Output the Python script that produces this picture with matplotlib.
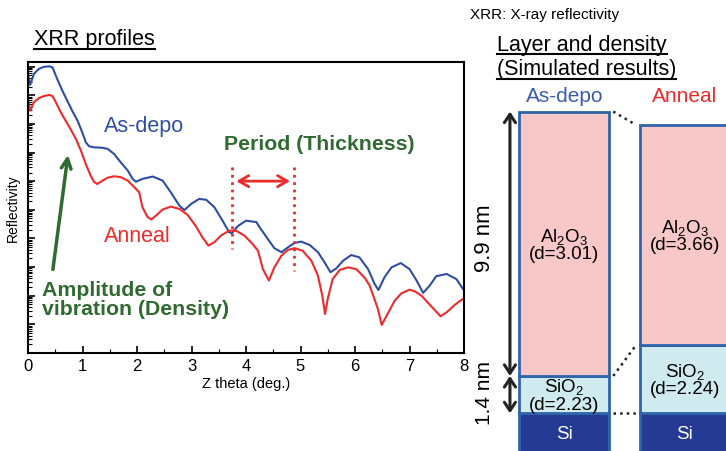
import matplotlib
matplotlib.use("Agg")
import matplotlib.pyplot as plt
from matplotlib.lines import Line2D
from matplotlib.ticker import LogLocator, MultipleLocator, NullFormatter
import numpy as np

plt.rcParams['font.family'] = ['Liberation Sans', 'DejaVu Sans']
plt.rcParams['mathtext.fontset'] = 'custom'
plt.rcParams['mathtext.rm'] = 'Liberation Sans'
plt.rcParams['mathtext.it'] = 'Liberation Sans:italic'

# XRR profiles: 2theta (deg) and log10(reflectivity)
asdepo_x = [0.00, 0.04, 0.11, 0.20, 0.29, 0.39, 0.45, 0.49, 0.54, 0.63, 0.72, 0.81, 0.91,
            1.00, 1.06, 1.12, 1.21, 1.34, 1.46, 1.58, 1.70, 1.83, 1.92, 1.98, 2.10, 2.29,
            2.47, 2.62, 2.78, 2.87, 2.99, 3.14, 3.27, 3.42, 3.57, 3.69, 3.74, 3.85, 4.00,
            4.19, 4.25, 4.40, 4.52, 4.65, 4.77, 4.89, 5.01, 5.17, 5.32, 5.44, 5.55, 5.66,
            5.78, 5.93, 6.08, 6.24, 6.36, 6.43, 6.54, 6.67, 6.84, 7.00, 7.13, 7.25, 7.37,
            7.49, 7.68, 7.86, 7.98]
asdepo_log = [-0.29, -0.64, -0.25, -0.08, -0.01, 0.01, -0.03, -0.22, -0.45, -0.84, -1.19,
              -1.54, -1.89, -2.32, -2.64, -2.78, -2.82, -2.83, -2.87, -3.05, -3.34, -3.63,
              -3.92, -4.02, -3.92, -3.84, -3.98, -4.39, -4.86, -5.01, -4.80, -4.62, -4.65,
              -4.91, -5.38, -5.78, -5.82, -5.57, -5.38, -5.43, -5.61, -6.02, -6.34, -6.48,
              -6.31, -6.16, -6.11, -6.23, -6.48, -6.83, -7.18, -7.04, -6.78, -6.58, -6.66,
              -7.07, -7.59, -7.80, -7.36, -7.01, -6.86, -7.07, -7.47, -7.90, -7.65, -7.32,
              -7.24, -7.42, -7.76]

anneal_x = [0.00, 0.04, 0.11, 0.20, 0.29, 0.39, 0.45, 0.51, 0.60, 0.69, 0.78, 0.88, 0.97,
            1.06, 1.15, 1.21, 1.27, 1.37, 1.46, 1.58, 1.70, 1.83, 1.95, 2.04, 2.10, 2.19,
            2.26, 2.35, 2.47, 2.62, 2.78, 2.93, 3.08, 3.20, 3.31, 3.42, 3.54, 3.69, 3.82,
            3.97, 4.12, 4.22, 4.31, 4.42, 4.52, 4.65, 4.77, 4.89, 5.04, 5.20, 5.32, 5.40,
            5.45, 5.50, 5.59, 5.72, 5.87, 6.02, 6.08, 6.18, 6.27, 6.42, 6.49, 6.58, 6.73,
            6.85, 7.00, 7.10, 7.22, 7.40, 7.57, 7.68, 7.83, 7.98]
anneal_log = [-1.19, -1.54, -1.24, -1.10, -1.03, -0.99, -1.03, -1.24, -1.59, -1.89, -2.18,
              -2.53, -2.93, -3.40, -3.81, -4.02, -4.10, -3.98, -3.88, -3.83, -3.86, -3.98,
              -4.21, -4.39, -4.91, -5.24, -5.34, -5.20, -4.99, -4.89, -4.97, -5.18, -5.57,
              -5.96, -6.25, -6.13, -5.90, -5.73, -5.73, -5.90, -6.19, -6.43, -7.07, -7.47,
              -7.01, -6.60, -6.40, -6.34, -6.43, -6.78, -7.30, -8.00, -8.64, -8.11, -7.42,
              -7.10, -7.01, -7.07, -7.18, -7.38, -7.65, -8.46, -9.02, -8.70, -8.17, -7.92,
              -7.79, -7.85, -8.00, -8.37, -8.72, -8.58, -8.32, -8.11]

# layer model (simulated results)
samples = ['As-depo', 'Anneal']
al2o3_thk = [9.9, 8.25]
sio2_thk = [1.4, 2.55]
al2o3_d = [3.01, 3.66]
sio2_d = [2.23, 2.24]
si_thk = 1.5

BLUE = '#2f4ea3'
RED = '#ee2a2a'
GREEN = '#2f6b30'
EDGE = '#2e64a8'
PINK = '#f8c8c9'
CYAN = '#cfebf0'
NAVY = '#243a93'

W, H = 726, 452
fig = plt.figure(figsize=(W / 100, H / 100), dpi=100)

# ---------------- left: XRR profiles ----------------
ax = fig.add_axes([28 / W, 1 - 354 / H, 436 / W, 291 / H])
ax.plot(asdepo_x, 10 ** np.array(asdepo_log), color=BLUE, lw=1.5, solid_joinstyle='round')
ax.plot(anneal_x, 10 ** np.array(anneal_log), color=RED, lw=1.5, solid_joinstyle='round')
ax.set_yscale('log')
ax.set_xlim(0, 8)
ax.set_ylim(1e-10, 10 ** 0.16)
ax.xaxis.set_major_locator(MultipleLocator(1))
ax.xaxis.set_minor_locator(MultipleLocator(0.5))
ax.yaxis.set_major_locator(LogLocator(base=10, numticks=20))
ax.yaxis.set_minor_locator(LogLocator(base=10, subs=np.arange(2, 10), numticks=20))
ax.yaxis.set_major_formatter(NullFormatter())
ax.yaxis.set_minor_formatter(NullFormatter())
ax.tick_params(which='both', direction='in', top=False, right=False)
ax.tick_params(which='major', length=5, width=1.2, labelsize=12)
ax.tick_params(which='minor', length=3, width=0.8)
for s in ax.spines.values():
    s.set_linewidth(1.5)
ax.set_xlabel('Z theta (deg.)', fontsize=10.5, labelpad=2)
ax.set_ylabel('Reflectivity', fontsize=10, labelpad=2)

ax.text(1.40, 10 ** -2.04, 'As-depo', color=BLUE, fontsize=15.5, va='center')
ax.text(1.40, 10 ** -5.9, 'Anneal', color=RED, fontsize=15.5, va='center')
ax.text(3.60, 10 ** -2.70, 'Period (Thickness)', color=GREEN, fontsize=15.3,
        fontweight='bold', va='center')
ax.text(0.26, 10 ** -8.10, 'Amplitude of\nvibration (Density)', color=GREEN,
        fontsize=15.3, fontweight='bold', va='center', linespacing=1.0)
ax.annotate('', xy=(0.74, 10 ** -2.99), xytext=(0.45, 10 ** -7.18),
            arrowprops=dict(arrowstyle='->,head_length=0.7,head_width=0.35',
                            color=GREEN, lw=2.5))
ax.plot([3.74, 3.74], [10 ** -3.51, 10 ** -6.37], color=RED, ls=':', lw=2)
ax.plot([4.88, 4.88], [10 ** -3.51, 10 ** -7.13], color=RED, ls=':', lw=2)
ax.annotate('', xy=(4.86, 10 ** -4.0), xytext=(3.77, 10 ** -4.0),
            arrowprops=dict(arrowstyle='<->,head_length=0.7,head_width=0.4',
                            color=RED, lw=2))

# ---------------- right: layer stack ----------------
bx = fig.add_axes([470 / W, 0, 256 / W, 352 / H])
bx.set_xlim(-0.781, 1.340)
bx.set_ylim(-1.41, 11.77)
bx.axis('off')
bw = 0.746
pos = np.arange(len(samples))
bx.bar(pos, si_thk, bottom=-si_thk, width=bw, color=NAVY, edgecolor=EDGE, lw=2)
bx.bar(pos, sio2_thk, bottom=0, width=bw, color=CYAN, edgecolor=EDGE, lw=2)
bx.bar(pos, al2o3_thk, bottom=sio2_thk, width=bw, color=PINK, edgecolor=EDGE, lw=2)

for i in pos:
    bx.text(i, sio2_thk[i] + al2o3_thk[i] / 2, 'Al$_2$O$_3$\n(d=%.2f)' % al2o3_d[i],
            ha='center', va='center', fontsize=13.5, linespacing=0.95)
    bx.text(i, sio2_thk[i] / 2, 'SiO$_2$\n(d=%.2f)' % sio2_d[i],
            ha='center', va='center', fontsize=13.5, linespacing=0.95)
    bx.text(i, -0.75, 'Si', ha='center', va='center', fontsize=13.5, color='white')

# dotted connectors between the two stacks
gap = 0.033
for y0, y1 in [(sio2_thk[0] + al2o3_thk[0], sio2_thk[1] + al2o3_thk[1]),
               (sio2_thk[0], sio2_thk[1]), (0, 0)]:
    bx.plot([bw / 2 + gap, 1 - bw / 2 - gap], [y0, y1], color='#222222', ls=':', lw=1.8)

# thickness arrows
ax_x = -0.45
arr = dict(arrowstyle='<->,head_length=0.6,head_width=0.4', color='#222222', lw=2.2,
           shrinkA=0, shrinkB=0)
bx.annotate('', xy=(ax_x, sio2_thk[0] + al2o3_thk[0]), xytext=(ax_x, sio2_thk[0]),
            arrowprops=arr)
bx.annotate('', xy=(ax_x, sio2_thk[0]), xytext=(ax_x, 0), arrowprops=arr)
bx.text(-0.657, 6.6, '%.1f nm' % al2o3_thk[0], rotation=90, ha='center', va='center',
        fontsize=16)
bx.text(-0.657, 0.8, '%.1f nm' % sio2_thk[0], rotation=90, ha='center', va='center',
        fontsize=15)

bx.text(0, 1.0 + 3 / 352, samples[0], transform=bx.get_xaxis_transform(), color='#3a5bb0',
        fontsize=15, ha='center', va='center')
bx.text(1, 1.0 + 3 / 352, samples[1], transform=bx.get_xaxis_transform(), color=RED,
        fontsize=15, ha='center', va='center')

# titles
t1 = fig.text(34 / W, 1 - 40 / H, 'XRR profiles', fontsize=15.5, va='center')
t2 = fig.text(497 / W, 1 - 45 / H, 'Layer and density', fontsize=15.5, va='center')
t3 = fig.text(497 / W, 1 - 70 / H, '(Simulated results)', fontsize=15.5, va='center')
fig.text(470 / W, 1 - 15 / H, 'XRR: X-ray reflectivity', fontsize=11, va='center')

fig.canvas.draw()
r = fig.canvas.get_renderer()
for t in (t1, t2, t3):
    bb = t.get_window_extent(r)
    y = (bb.y0 + 1) / H
    fig.add_artist(Line2D([bb.x0 / W, bb.x1 / W], [y, y], transform=fig.transFigure,
                          color='black', lw=1.5))

fig.savefig('out.png', dpi=100)
